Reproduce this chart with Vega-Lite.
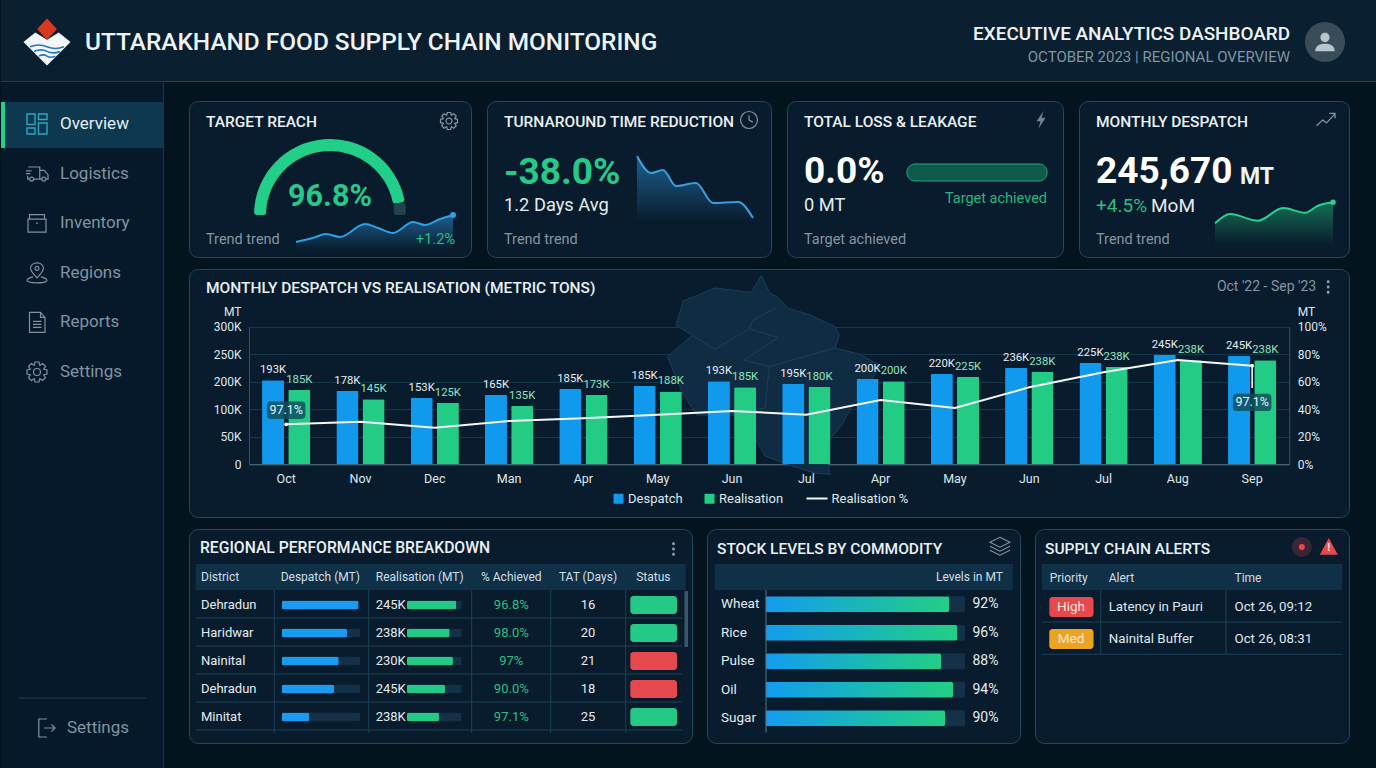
{
"$schema":"https://vega.github.io/schema/vega-lite/v6.json",
"padding":0,
"background":"#04141f",
"config":{"font":"Roboto","view":{"stroke":null},"title":{"anchor":"start","frame":"group","baseline":"middle","font":"Roboto","fontWeight":500,"fontSize":15.5,"color":"#eaf1f5"},"legend":{"labelFont":"Roboto","labelFontSize":13,"labelColor":"#dfe8ed","title":null}},
"datasets":{
"months":[
{"m":"Oct1","s":"Despatch","v":203,"label":"193K"},{"m":"Nov2","s":"Despatch","v":167,"label":"178K"},{"m":"Dec3","s":"Despatch","v":142,"label":"153K"},{"m":"Man4","s":"Despatch","v":153,"label":"165K"},{"m":"Apr5","s":"Despatch","v":174,"label":"185K"},{"m":"May6","s":"Despatch","v":186,"label":"185K"},{"m":"Jun7","s":"Despatch","v":201,"label":"193K"},{"m":"Jul8","s":"Despatch","v":193,"label":"195K"},{"m":"Apr9","s":"Despatch","v":205,"label":"200K"},{"m":"May10","s":"Despatch","v":214,"label":"220K"},{"m":"Jun11","s":"Despatch","v":225,"label":"236K"},{"m":"Jul12","s":"Despatch","v":234,"label":"225K"},{"m":"Aug13","s":"Despatch","v":249,"label":"245K"},{"m":"Sep14","s":"Despatch","v":247,"label":"245K"},
{"m":"Oct1","s":"Realisation","v":170,"label":"185K"},{"m":"Nov2","s":"Realisation","v":137,"label":"145K"},{"m":"Dec3","s":"Realisation","v":124,"label":"125K"},{"m":"Man4","s":"Realisation","v":112,"label":"135K"},{"m":"Apr5","s":"Realisation","v":152,"label":"173K"},{"m":"May6","s":"Realisation","v":165,"label":"188K"},{"m":"Jun7","s":"Realisation","v":180,"label":"185K"},{"m":"Jul8","s":"Realisation","v":181,"label":"180K"},{"m":"Apr9","s":"Realisation","v":201,"label":"200K"},{"m":"May10","s":"Realisation","v":209,"label":"225K"},{"m":"Jun11","s":"Realisation","v":218,"label":"238K"},{"m":"Jul12","s":"Realisation","v":227,"label":"238K"},{"m":"Aug13","s":"Realisation","v":239,"label":"238K"},{"m":"Sep14","s":"Realisation","v":239,"label":"238K"}],
"pct":[{"m":"Oct1","p":29.1},{"m":"Nov2","p":31},{"m":"Dec3","p":26.6},{"m":"Man4","p":31.5},{"m":"Apr5","p":33.5},{"m":"May6","p":36},{"m":"Jun7","p":38.8},{"m":"Jul8","p":36},{"m":"Apr9","p":46.8},{"m":"May10","p":41},{"m":"Jun11","p":56},{"m":"Jul12","p":67},{"m":"Aug13","p":75.8},{"m":"Sep14","p":71.7}],
"pills":[{"m":"Oct1","p":39.3,"t":"97.1%"},{"m":"Sep14","p":45,"t":"97.1%"}],
"regional":[{"key":"r1","desp":98,"real":90.2,"cap":100,"status":"ok","lo":0,"hi":1},{"key":"r2","desp":83.4,"real":78,"cap":100,"status":"ok","lo":0,"hi":1},{"key":"r3","desp":72.8,"real":84,"cap":100,"status":"bad","lo":0,"hi":1},{"key":"r4","desp":66.8,"real":69.5,"cap":100,"status":"bad","lo":0,"hi":1},{"key":"r5","desp":35.3,"real":58.5,"cap":100,"status":"ok","lo":0,"hi":1}],
"stock":[{"c":"Wheat","v":92,"t":"92%"},{"c":"Rice","v":96,"t":"96%"},{"c":"Pulse","v":88,"t":"88%"},{"c":"Oil","v":94,"t":"94%"},{"c":"Sugar","v":90,"t":"90%"}]
},
"spacing":0,
"vconcat":[
{"width":1376,"height":82,"view":{"fill":"#0a1f30"},
 "encoding":{"x":{"field":"col","type":"quantitative","axis":null,"scale":{"domain":[1,2,3,4],"range":[46,84,1289,1324]}},"y":{"field":"row","type":"quantitative","axis":null,"scale":{"domain":[1,2,3,4,5],"range":[33.5,43,56.5,42,81.5]}}},
 "layer":[
 {"data":{"values":[{"row":5}]},"mark":{"type":"rule","color":"#1c4459"},"encoding":{"x":null}},
 {"data":{"values":[{"col":1,"row":4}]},"mark":{"type":"point","filled":true,"size":2209,"opacity":1,"fill":"#f4f7f9","shape":"M-1 0L-.5 -.4L0 -.1L.5 -.4L1 0L0 1Z"}},
 {"data":{"values":[{"col":1,"row":4}]},"mark":{"type":"point","filled":false,"size":2209,"opacity":1,"stroke":"#2277b8","strokeWidth":1.6,"shape":"M-.72 .2Q-.35 .05 0 .2T.72 .2M-.55 .4Q-.25 .27 0 .4T.55 .4M-.35 .6Q-.15 .5 0 .6T.35 .6"}},
 {"data":{"values":[{"col":1,"row":4}]},"mark":{"type":"point","filled":true,"size":2209,"opacity":1,"fill":"#d8391f","shape":"M0 -1L.42 -.55L0 -.1L-.42 -.55Z"}},
 {"data":{"values":[{"col":2,"row":2,"t":"UTTARAKHAND FOOD SUPPLY CHAIN MONITORING"}]},"mark":{"type":"text","align":"left","fontSize":24.4,"fontWeight":500,"color":"#eef3f6"},"encoding":{"text":{"field":"t"}}},
 {"data":{"values":[{"col":3,"row":1,"t":"EXECUTIVE ANALYTICS DASHBOARD"}]},"mark":{"type":"text","align":"right","fontSize":18.9,"fontWeight":500,"color":"#eef3f6"},"encoding":{"text":{"field":"t"}}},
 {"data":{"values":[{"col":3,"row":3,"t":"OCTOBER 2023 | REGIONAL OVERVIEW"}]},"mark":{"type":"text","align":"right","fontSize":15,"color":"#7f95a3"},"encoding":{"text":{"field":"t"}}},
 {"data":{"values":[{"col":4,"row":4}]},"mark":{"type":"point","filled":true,"size":1600,"opacity":1,"fill":"#3a4b5a","shape":"circle"}},
 {"data":{"values":[{"col":4,"row":4}]},"mark":{"type":"point","filled":true,"size":529,"opacity":1,"fill":"#b9c5cd","shape":"M.4 -.4A.4 .4 0 1 1 -.4 -.4A.4 .4 0 1 1 .4 -.4ZM-.85 .8C-.85 .3 -.4 .15 0 .15C.4 .15 .85 .3 .85 .8Z"}}
 ]},
{"spacing":24,"hconcat":[
 {"width":163,"height":686,"view":{"fill":"#06192a"},
  "resolve":{"scale":{"x":"independent","y":"independent"}},
  "encoding":{"x":{"field":"col","type":"quantitative","axis":null,"scale":{"domain":[0,1,2,3,4,5],"range":[0,36,45,59,66,162.5]}},"y":{"field":"row","type":"quantitative","axis":null,"scale":{"domain":[1,6,7,8],"range":[41,289,615,645]}}},
  "layer":[
  {"data":{"values":[{"col":5}]},"mark":{"type":"rule","color":"#16384c"},"encoding":{"y":null}},
  {"data":{"values":[{"item":"Overview","lo":0,"hi":100}]},"mark":{"type":"rect","color":"#0e3850"},"encoding":{"x":{"field":"lo","type":"quantitative","axis":null,"scale":{"domain":[0,100],"range":[0,162.5]}},"x2":{"field":"hi"},"y":{"field":"item","type":"nominal","axis":null,"scale":{"type":"band","domain":["Overview"],"range":[19,65],"paddingInner":0,"paddingOuter":0}}}},
  {"data":{"values":[{"item":"Overview","lo":0,"hi":2.5}]},"mark":{"type":"rect","color":"#24d08a"},"encoding":{"x":{"field":"lo","type":"quantitative","axis":null,"scale":{"domain":[0,100],"range":[0,162.5]}},"x2":{"field":"hi"},"y":{"field":"item","type":"nominal","axis":null,"scale":{"type":"band","domain":["Overview"],"range":[19,65],"paddingInner":0,"paddingOuter":0}}}},
  {"data":{"values":[{"row":7,"lo":11,"hi":89}]},"mark":{"type":"rule","color":"#1c4459"},"encoding":{"x":{"field":"lo","type":"quantitative","axis":null,"scale":{"domain":[0,100],"range":[0,162.5]}},"x2":{"field":"hi"}}},
  {"data":{"values":[{"col":1,"row":1}]},"mark":{"type":"point","filled":false,"size":400,"opacity":1,"stroke":"#2ea7bf","strokeWidth":1.4,"shape":"M-1 -1H-.2V.05H-1ZM.15 -1H1V-.45H.15ZM-1 .4H-.2V1H-1ZM.15 -.1H1V1H.15Z"}},
  {"data":{"values":[{"col":1,"row":2}]},"mark":{"type":"point","filled":false,"size":484,"opacity":1,"stroke":"#7d93a1","strokeWidth":1.2,"shape":"M-.8 -.6H.25V.5H-.3M-.65 .5H-.85V.2M.25 -.3H.65L1 .1V.5H.8M.45 .5H.25M-.3 .5A.18 .18 0 1 1 -.66 .5A.18 .18 0 1 1 -.3 .5ZM.8 .5A.18 .18 0 1 1 .44 .5A.18 .18 0 1 1 .8 .5ZM-1 -.25H-.5M-1 0H-.6"}},
  {"data":{"values":[{"col":1,"row":3}]},"mark":{"type":"point","filled":false,"size":400,"opacity":1,"stroke":"#7d93a1","strokeWidth":1.2,"shape":"M-.9 -.4H.9V.9H-.9ZM-.75 -.4V-.85H.75V-.4M-.1 0H.1"}},
  {"data":{"values":[{"col":1,"row":4}]},"mark":{"type":"point","filled":false,"size":400,"opacity":1,"stroke":"#7d93a1","strokeWidth":1.2,"shape":"M0 .5C-.5 0 -.65 -.3 -.65 -.45A.65 .55 0 1 1 .65 -.45C.65 -.3 .5 0 0 .5ZM.2 -.45A.2 .2 0 1 1 -.2 -.45A.2 .2 0 1 1 .2 -.45ZM-.4 .4C-.8 .5 -1 .65 -1 .75C-1 .95 -.5 1 0 1C.5 1 1 .95 1 .75C1 .65 .8 .5 .4 .4"}},
  {"data":{"values":[{"col":1,"row":5}]},"mark":{"type":"point","filled":false,"size":400,"opacity":1,"stroke":"#7d93a1","strokeWidth":1.2,"shape":"M-.75 -1H.35L.8 -.5V1H-.75ZM.35 -1V-.5H.8M-.4 -.1H.45M-.4 .2H.45M-.4 .5H.45"}},
  {"data":{"values":[{"col":1,"row":6}]},"mark":{"type":"point","filled":false,"size":400,"opacity":1,"stroke":"#7d93a1","strokeWidth":1.2,"shape":"M-.2 -1L.2 -1L.28 -.67L.57 -.85L.85 -.57L.67 -.28L1 -.2L1 .2L.67 .28L.85 .57L.57 .85L.28 .67L.2 1L-.2 1L-.28 .67L-.57 .85L-.85 .57L-.67 .28L-1 .2L-1 -.2L-.67 -.28L-.85 -.57L-.57 -.85L-.28 -.67ZM.35 0A.35 .35 0 1 1 -.35 0A.35 .35 0 1 1 .35 0Z"}},
  {"data":{"values":[{"col":2,"row":8}]},"mark":{"type":"point","filled":false,"size":324,"opacity":1,"stroke":"#7d93a1","strokeWidth":1.2,"shape":"M.1 -1H-.8V1H.1M-.2 0H1M.6 -.4L1 0L.6 .4"}},
  {"data":{"values":[{"col":3,"row":1,"t":"Overview"}]},"mark":{"type":"text","align":"left","fontSize":17,"color":"#e6eef2"},"encoding":{"text":{"field":"t"}}},
  {"data":{"values":[{"col":3,"row":2,"t":"Logistics"},{"col":3,"row":3,"t":"Inventory"},{"col":3,"row":4,"t":"Regions"},{"col":3,"row":5,"t":"Reports"},{"col":3,"row":6,"t":"Settings"},{"col":4,"row":8,"t":"Settings"}]},"mark":{"type":"text","align":"left","fontSize":17,"color":"#7f95a3"},"encoding":{"text":{"field":"t"}}}
  ]},
 {"spacing":10,"vconcat":[
  {"width":1160,"height":6.5,"data":{"values":[]},"mark":"rect"},
  {"spacing":14,"hconcat":[
   {"width":282,"height":156,"view":{"fill":"#091c2d","stroke":"#1f4a60","cornerRadius":9},"title":{"text":"TARGET REACH","dx":17,"offset":-29},
    "resolve":{"scale":{"x":"independent","y":"independent"}},
    "encoding":{"x":{"field":"col","type":"quantitative","axis":null,"scale":{"domain":[1,2,3,4],"range":[17,141,260,266]}},"y":{"field":"row","type":"quantitative","axis":null,"scale":{"domain":[1,2,3,4],"range":[20,96,114,139]}}},
    "layer":[
    {"data":{"values":[{"col":2,"row":3,"part":"done","v":94.5},{"col":2,"row":3,"part":"rest","v":5.5}]},"mark":{"type":"arc","innerRadius":64,"outerRadius":76,"cornerRadius":3},"encoding":{"theta":{"field":"v","type":"quantitative","stack":true,"scale":{"domain":[0,100],"range":[-1.5708,1.5708]}},"color":{"field":"part","type":"nominal","legend":null,"scale":{"domain":["done","rest","ok","bad","High","Med"],"range":["#22cf88","#25404f","#24c985","#e5484d","#e5484d","#eba320"]}}}},
    {"data":{"values":[{"col":3,"row":1}]},"mark":{"type":"point","filled":false,"size":289,"opacity":1,"stroke":"#8296a3","strokeWidth":1.2,"shape":"M-.2 -1L.2 -1L.28 -.67L.57 -.85L.85 -.57L.67 -.28L1 -.2L1 .2L.67 .28L.85 .57L.57 .85L.28 .67L.2 1L-.2 1L-.28 .67L-.57 .85L-.85 .57L-.67 .28L-1 .2L-1 -.2L-.67 -.28L-.85 -.57L-.57 -.85L-.28 -.67ZM.35 0A.35 .35 0 1 1 -.35 0A.35 .35 0 1 1 .35 0Z"}},
    {"data":{"values":[{"t":0,"v":8},{"t":17,"v":12},{"t":30,"v":16},{"t":44,"v":13},{"t":69,"v":26},{"t":82,"v":22},{"t":97,"v":17},{"t":117,"v":28},{"t":129,"v":25},{"t":144,"v":31},{"t":157,"v":35}]},
     "encoding":{"x":{"field":"t","type":"quantitative","axis":null,"scale":{"domain":[0,157],"range":[107,264]}},"y":{"field":"v","type":"quantitative","axis":null,"scale":{"domain":[0,40],"range":[149,109]}}},
     "layer":[
     {"mark":{"type":"area","interpolate":"monotone","color":{"gradient":"linear","x1":0,"y1":0,"x2":0,"y2":1,"stops":[{"offset":0,"color":"#1d5f8e"},{"offset":1,"color":"#091c2d"}]}}},
     {"mark":{"type":"line","interpolate":"monotone","color":"#2f9fe6","strokeWidth":2}},
     {"transform":[{"filter":"datum.t==157"}],"mark":{"type":"point","filled":true,"size":36,"opacity":1,"color":"#2f9fe6"}}]},
    {"data":{"values":[{"col":2,"row":2,"t":"96.8%"}]},"mark":{"type":"text","fontSize":30.5,"fontWeight":700,"color":"#27c98a"},"encoding":{"text":{"field":"t"}}},
    {"data":{"values":[{"col":1,"row":4,"t":"Trend trend"}]},"mark":{"type":"text","align":"left","fontSize":14.5,"color":"#8296a3"},"encoding":{"text":{"field":"t"}}},
    {"data":{"values":[{"col":4,"row":4,"t":"+1.2%"}]},"mark":{"type":"text","align":"right","fontSize":14.5,"color":"#2bbf82"},"encoding":{"text":{"field":"t"}}}
    ]},
   {"width":284,"height":156,"view":{"fill":"#091c2d","stroke":"#1f4a60","cornerRadius":9},"title":{"text":"TURNAROUND TIME REDUCTION","dx":17,"offset":-29},
    "resolve":{"scale":{"x":"independent","y":"independent"}},
    "encoding":{"x":{"field":"col","type":"quantitative","axis":null,"scale":{"domain":[1,2],"range":[17,262]}},"y":{"field":"row","type":"quantitative","axis":null,"scale":{"domain":[1,2,3,4],"range":[19,72,105,139]}}},
    "layer":[
    {"data":{"values":[{"col":2,"row":1}]},"mark":{"type":"point","filled":false,"size":289,"opacity":1,"stroke":"#8296a3","strokeWidth":1.2,"shape":"M1 0A1 1 0 1 1 -1 0A1 1 0 1 1 1 0ZM0 -.55L0 0L.45 .25"}},
    {"data":{"values":[{"t":0,"v":66},{"t":14,"v":49},{"t":26,"v":52},{"t":39,"v":36},{"t":59,"v":39},{"t":76,"v":19},{"t":101,"v":20},{"t":116,"v":4}]},
     "encoding":{"x":{"field":"t","type":"quantitative","axis":null,"scale":{"domain":[0,116],"range":[150,266]}},"y":{"field":"v","type":"quantitative","axis":null,"scale":{"domain":[0,70],"range":[121,51]}}},
     "layer":[
     {"mark":{"type":"area","interpolate":"monotone","color":{"gradient":"linear","x1":0,"y1":0,"x2":0,"y2":1,"stops":[{"offset":0,"color":"#1f5f90"},{"offset":1,"color":"#091c2d"}]}}},
     {"mark":{"type":"line","interpolate":"monotone","color":"#3a9fe0","strokeWidth":2}}]},
    {"data":{"values":[{"col":1,"row":2,"t":"-38.0%"}]},"mark":{"type":"text","align":"left","fontSize":37,"fontWeight":700,"color":"#27c98a"},"encoding":{"text":{"field":"t"}}},
    {"data":{"values":[{"col":1,"row":3,"t":"1.2 Days Avg"}]},"mark":{"type":"text","align":"left","fontSize":18.3,"color":"#e4ecf0"},"encoding":{"text":{"field":"t"}}},
    {"data":{"values":[{"col":1,"row":4,"t":"Trend trend"}]},"mark":{"type":"text","align":"left","fontSize":14.5,"color":"#8296a3"},"encoding":{"text":{"field":"t"}}}
    ]},
   {"width":276,"height":156,"view":{"fill":"#091c2d","stroke":"#1f4a60","cornerRadius":9},"title":{"text":"TOTAL LOSS & LEAKAGE","dx":17,"offset":-29},
    "resolve":{"scale":{"x":"independent","y":"independent"}},
    "encoding":{"x":{"field":"col","type":"quantitative","axis":null,"scale":{"domain":[1,2,3],"range":[17,254,260]}},"y":{"field":"row","type":"quantitative","axis":null,"scale":{"domain":[1,2,3,4,5],"range":[19,71,98,105,139]}}},
    "layer":[
    {"data":{"values":[{"col":2,"row":1}]},"mark":{"type":"point","filled":true,"size":324,"opacity":1,"fill":"#6f8494","shape":"M.3 -1L-.5 .15L-.05 .15L-.3 1L.5 -.25L.05 -.25Z"}},
    {"data":{"values":[{"s":"loss","a":0,"b":100}]},"mark":{"type":"rect","cornerRadius":8,"fill":"#0e5a4a","stroke":"#2aa97b","strokeWidth":1},"encoding":{"x":{"field":"a","type":"quantitative","axis":null,"scale":{"domain":[0,100],"range":[120,260]}},"x2":{"field":"b"},"y":{"field":"s","type":"nominal","axis":null,"scale":{"type":"band","domain":["loss"],"range":[63,80]}}}},
    {"data":{"values":[{"col":1,"row":2,"t":"0.0%"}]},"mark":{"type":"text","align":"left","fontSize":37,"fontWeight":700,"color":"#ffffff"},"encoding":{"text":{"field":"t"}}},
    {"data":{"values":[{"col":1,"row":4,"t":"0 MT"}]},"mark":{"type":"text","align":"left","fontSize":18.3,"color":"#e4ecf0"},"encoding":{"text":{"field":"t"}}},
    {"data":{"values":[{"col":1,"row":5,"t":"Target achieved"}]},"mark":{"type":"text","align":"left","fontSize":14.5,"color":"#8296a3"},"encoding":{"text":{"field":"t"}}},
    {"data":{"values":[{"col":3,"row":3,"t":"Target achieved"}]},"mark":{"type":"text","align":"right","fontSize":14.5,"color":"#2bb67f"},"encoding":{"text":{"field":"t"}}}
    ]},
   {"width":270,"height":156,"view":{"fill":"#091c2d","stroke":"#1f4a60","cornerRadius":9},"title":{"text":"MONTHLY DESPATCH","dx":17,"offset":-29},
    "resolve":{"scale":{"x":"independent","y":"independent"}},
    "encoding":{"x":{"field":"col","type":"quantitative","axis":null,"scale":{"domain":[1,2,3,4],"range":[17,72,161,247]}},"y":{"field":"row","type":"quantitative","axis":null,"scale":{"domain":[1,2,3,4,5],"range":[19,71,76,105,139]}}},
    "layer":[
    {"data":{"values":[{"col":4,"row":1}]},"mark":{"type":"point","filled":false,"size":361,"opacity":1,"stroke":"#8296a3","strokeWidth":1.2,"shape":"M-1 .6L-.35 0L.05 .3L.9 -.6M.35 -.7L.95 -.7L.95 -.15"}},
    {"data":{"values":[{"t":0,"v":21.7},{"t":15,"v":31},{"t":43,"v":24.3},{"t":68,"v":37},{"t":90,"v":32.3},{"t":103,"v":39.3},{"t":118,"v":42.7}]},
     "encoding":{"x":{"field":"t","type":"quantitative","axis":null,"scale":{"domain":[0,118],"range":[136,254]}},"y":{"field":"v","type":"quantitative","axis":null,"scale":{"domain":[0,50],"range":[144,94]}}},
     "layer":[
     {"mark":{"type":"area","interpolate":"monotone","color":{"gradient":"linear","x1":0,"y1":0,"x2":0,"y2":1,"stops":[{"offset":0,"color":"#146f55"},{"offset":1,"color":"#091c2d"}]}}},
     {"mark":{"type":"line","interpolate":"monotone","color":"#2bd08c","strokeWidth":2}},
     {"transform":[{"filter":"datum.t==118"}],"mark":{"type":"point","filled":true,"size":30,"opacity":1,"color":"#2bd08c"}}]},
    {"data":{"values":[{"col":1,"row":2,"t":"245,670"}]},"mark":{"type":"text","align":"left","fontSize":37,"fontWeight":700,"color":"#ffffff"},"encoding":{"text":{"field":"t"}}},
    {"data":{"values":[{"col":3,"row":3,"t":"MT"}]},"mark":{"type":"text","align":"left","fontSize":23,"fontWeight":700,"color":"#eef3f6"},"encoding":{"text":{"field":"t"}}},
    {"data":{"values":[{"col":1,"row":4,"t":"+4.5%"}]},"mark":{"type":"text","align":"left","fontSize":19,"color":"#2bbf82"},"encoding":{"text":{"field":"t"}}},
    {"data":{"values":[{"col":2,"row":4,"t":"MoM"}]},"mark":{"type":"text","align":"left","fontSize":19,"color":"#e4ecf0"},"encoding":{"text":{"field":"t"}}},
    {"data":{"values":[{"col":1,"row":5,"t":"Trend trend"}]},"mark":{"type":"text","align":"left","fontSize":14.5,"color":"#8296a3"},"encoding":{"text":{"field":"t"}}}
    ]}
  ]},
  {"width":1160,"height":248,"view":{"fill":"#091c2d","stroke":"#1f4a60","cornerRadius":9},"title":{"text":"MONTHLY DESPATCH VS REALISATION (METRIC TONS)","dx":17,"offset":-27},
   "resolve":{"scale":{"y":"independent"}},
   "layer":[
   {"data":{"values":[{"type":"Feature","properties":{},"geometry":{"type":"Polygon","coordinates":[[[79.10,31.45],[79.23,31.22],[79.37,31.15],[79.52,31.01],[79.88,30.91],[80.28,30.75],[80.35,30.63],[80.28,30.46],[80.67,30.37],[81.00,30.22],[80.89,30.06],[80.53,29.63],[80.39,29.39],[80.10,29.10],[80.20,28.70],[79.95,28.72],[79.59,28.82],[79.16,28.96],[78.97,29.25],[78.65,29.53],[78.07,29.53],[77.85,29.82],[77.60,30.34],[78.00,30.63],[77.74,30.77],[77.85,31.10],[78.36,31.28],[78.94,31.22],[79.10,31.45]]]}}],"format":{"type":"json"}},
    "projection":{"type":"mercator","scale":3587,"center":[79.3,30.1],"translate":[584.8,104.9]},
    "mark":{"type":"geoshape","fill":"#102c43","stroke":"#1b4763","strokeWidth":0.8}},
   {"data":{"values":[{"type":"Feature","properties":{},"geometry":{"type":"MultiLineString","coordinates":[[[78.00,30.63],[78.36,30.44],[78.90,30.72],[78.97,30.84],[79.34,31.01]],[[78.90,30.72],[79.37,30.60],[78.83,30.29],[79.23,30.20],[80.28,30.46]],[[79.23,30.20],[79.16,29.63],[78.65,29.53]]]}}],"format":{"type":"json"}},
    "projection":{"type":"mercator","scale":3587,"center":[79.3,30.1],"translate":[584.8,104.9]},
    "mark":{"type":"geoshape","filled":false,"fill":null,"stroke":"#1b4763","strokeWidth":0.7}},
   {"data":{"name":"months"},
    "encoding":{"x":{"field":"m","type":"nominal","title":null,"scale":{"domain":["Oct1","Nov2","Dec3","Man4","Apr5","May6","Jun7","Jul8","Apr9","May10","Jun11","Jul12","Aug13","Sep14"],"range":[60,1100.3],"paddingInner":0,"paddingOuter":0},"axis":{"labelExpr":"slice(datum.label,0,3)","labelAngle":0,"labelFontSize":12.5,"labelColor":"#dfe8ed","labelPadding":8,"ticks":false,"domainColor":"#5b7484","offset":-52.7,"grid":false}},
     "xOffset":{"field":"s","type":"nominal","scale":{"domain":["Despatch","Realisation"],"paddingInner":0.16,"paddingOuter":0.498}},
     "y":{"field":"v","type":"quantitative","scale":{"domain":[0,50,100,200,250,300],"range":[195.3,167.8,140.3,112.8,85.3,57.8]},"axis":{"values":[0,50,100,200,250,300],"labelExpr":"datum.value==0?'0':datum.value+'K'","labelFontSize":12,"labelColor":"#dfe8ed","labelPadding":8,"ticks":false,"labelOverlap":false,"grid":true,"gridColor":"#17374c","domain":true,"domainColor":"#35505f","offset":-60,"title":"MT","titleAngle":0,"titleX":-8,"titleY":42,"titleAlign":"right","titleBaseline":"middle","titleFontSize":12,"titleFontWeight":400,"titleColor":"#dfe8ed"}}},
    "layer":[
    {"mark":{"type":"bar","cornerRadius":1},"encoding":{"fill":{"field":"s","type":"nominal","scale":{"domain":["Despatch","Realisation"],"range":["#1199ee","#23cc85"]},"legend":{"orient":"none","direction":"horizontal","columns":2,"legendX":611,"legendY":492,"symbolType":"square","symbolSize":100,"symbolStrokeWidth":0,"columnPadding":20,"labelOffset":3}}}},
    {"transform":[{"filter":"datum.s=='Despatch'"}],"mark":{"type":"text","fontSize":11.3,"dy":-10,"color":"#e8eff3"},"encoding":{"text":{"field":"label"}}},
    {"transform":[{"filter":"datum.s=='Realisation'"}],"mark":{"type":"text","fontSize":11.3,"dy":-10,"color":"#8fe6bd"},"encoding":{"text":{"field":"label"}}}
    ]},
   {"encoding":{"x":{"field":"m","type":"nominal","title":null,"scale":{"domain":["Oct1","Nov2","Dec3","Man4","Apr5","May6","Jun7","Jul8","Apr9","May10","Jun11","Jul12","Aug13","Sep14"],"range":[60,1100.3],"paddingInner":0,"paddingOuter":0},"axis":{"labelExpr":"slice(datum.label,0,3)","labelAngle":0,"labelFontSize":12.5,"labelColor":"#dfe8ed","labelPadding":8,"ticks":false,"domainColor":"#5b7484","offset":-52.7,"grid":false}},
     "y":{"field":"p","type":"quantitative","scale":{"domain":[0,100],"range":[195.3,57.8]},"axis":{"orient":"right","values":[0,20,40,60,80,100],"labelExpr":"datum.value+'%'","labelFontSize":12,"labelColor":"#dfe8ed","labelPadding":8,"ticks":false,"grid":false,"domain":true,"domainColor":"#35505f","offset":-59.7,"title":"MT","titleAngle":0,"titleX":8,"titleY":42,"titleAlign":"left","titleBaseline":"middle","titleFontSize":12,"titleFontWeight":400,"titleColor":"#dfe8ed"}}},
    "layer":[
    {"data":{"name":"pct"},"mark":{"type":"line","strokeWidth":2},"encoding":{"stroke":{"datum":"Realisation %","scale":{"domain":["Realisation %"],"range":["#f4f8fa"]},"legend":{"orient":"none","legendX":804.5,"legendY":487,"symbolType":"stroke","symbolSize":441,"symbolStrokeWidth":2,"labelOffset":3}}}},
    {"data":{"name":"pct"},"transform":[{"filter":"datum.m=='Oct1'||datum.m=='Sep14'"}],"mark":{"type":"point","filled":true,"size":14,"opacity":1,"color":"#ffffff"}},
    {"data":{"values":[{"m":"Sep14","p":71.7,"b":55.5}]},"mark":{"type":"rule","color":"#ffffff","strokeWidth":1.5},"encoding":{"y2":{"field":"b"}}},
    {"data":{"name":"pills"},"mark":{"type":"point","filled":true,"size":1482,"opacity":0.85,"fill":"#0d5060","shape":"M-.8 -.45H.8Q1 -.45 1 -.25V.25Q1 .45 .8 .45H-.8Q-1 .45 -1 .25V-.25Q-1 -.45 -.8 -.45Z"}},
    {"data":{"name":"pills"},"mark":{"type":"text","fontSize":12.5,"color":"#e8f2f5"},"encoding":{"text":{"field":"t"}}},
    {"data":{"values":[{"m":"Sep14","p":129,"t":"Oct '22 - Sep '23"}]},"mark":{"type":"text","align":"right","dx":64,"fontSize":14,"color":"#8296a3"},"encoding":{"text":{"field":"t"}}},
    {"data":{"values":[{"m":"Sep14","p":129}]},"mark":{"type":"point","filled":true,"size":225,"opacity":1,"xOffset":76,"fill":"#8b9eab","shape":"M.2 -.7A.2 .2 0 1 1 -.2 -.7A.2 .2 0 1 1 .2 -.7ZM.2 0A.2 .2 0 1 1 -.2 0A.2 .2 0 1 1 .2 0ZM.2 .7A.2 .2 0 1 1 -.2 .7A.2 .2 0 1 1 .2 .7Z"}}
    ]}
   ]},
  {"spacing":13,"hconcat":[
   {"width":503,"height":214,"view":{"fill":"#091c2d","stroke":"#1f4a60","cornerRadius":9},"title":{"text":"REGIONAL PERFORMANCE BREAKDOWN","dx":11,"offset":-28,"fontSize":15.7},
    "resolve":{"scale":{"x":"independent","y":"independent"}},
    "encoding":{"x":{"field":"col","type":"quantitative","axis":null,"scale":{"domain":[1,2,3,4,5,6,7,8],"range":[12,131.3,186.7,230.7,322.3,399,464.3,484.5]}},"y":{"field":"key","type":"nominal","axis":null,"scale":{"type":"band","domain":["top","hdr","r1","r2","r3","r4","r5"],"range":[6,202],"paddingInner":0,"paddingOuter":0}}},
    "layer":[
    {"data":{"values":[{"n":1,"lo":0,"hi":1},{"n":2,"lo":0,"hi":1},{"n":3,"lo":0,"hi":1},{"n":4,"lo":0,"hi":1},{"n":5,"lo":0,"hi":1}]},"mark":{"type":"rule","color":"#1c4258"},"encoding":{"x":{"field":"lo","type":"quantitative","axis":null,"scale":{"domain":[0,1],"range":[7,493]}},"x2":{"field":"hi"},"y":{"field":"n","type":"quantitative","axis":null,"scale":{"domain":[1,5],"range":[89,201]}}}},
    {"data":{"values":[{"s":1,"lo":0,"hi":1},{"s":2,"lo":0,"hi":1},{"s":3,"lo":0,"hi":1},{"s":4,"lo":0,"hi":1},{"s":5,"lo":0,"hi":1}]},"mark":{"type":"rule","color":"#1c4258"},"encoding":{"x":{"field":"s","type":"quantitative","axis":null,"scale":{"domain":[1,2,3,4,5],"range":[85.3,179.7,282.7,361.7,436.7]}},"y":{"field":"lo","type":"quantitative","axis":null,"scale":{"domain":[0,1],"range":[61,204]}},"y2":{"field":"hi"}}},
    {"data":{"values":[{"key":"hdr","lo":0,"hi":1}]},"mark":{"type":"bar","size":26,"color":"#0f3148"},"encoding":{"x":{"field":"lo","type":"quantitative","axis":null,"scale":{"domain":[0,1],"range":[6.7,496.7]}},"x2":{"field":"hi"}}},
    {"data":{"name":"regional"},"mark":{"type":"bar","size":9,"cornerRadius":2,"color":"#15314a"},"encoding":{"x":{"field":"cap","type":"quantitative","axis":null,"scale":{"domain":[0,100],"range":[92.7,171]}}}},
    {"data":{"name":"regional"},"mark":{"type":"bar","size":9,"cornerRadius":2,"color":"#1a9bf0"},"encoding":{"x":{"field":"desp","type":"quantitative","axis":null,"scale":{"domain":[0,100],"range":[92.7,171]}}}},
    {"data":{"name":"regional"},"mark":{"type":"bar","size":9,"cornerRadius":2,"color":"#15314a"},"encoding":{"x":{"field":"cap","type":"quantitative","axis":null,"scale":{"domain":[0,100],"range":[218,272.7]}}}},
    {"data":{"name":"regional"},"mark":{"type":"bar","size":9,"cornerRadius":2,"color":"#24c985"},"encoding":{"x":{"field":"real","type":"quantitative","axis":null,"scale":{"domain":[0,100],"range":[218,272.7]}}}},
    {"data":{"name":"regional"},"mark":{"type":"bar","size":18,"cornerRadius":3},"encoding":{"x":{"field":"lo","type":"quantitative","axis":null,"scale":{"domain":[0,1],"range":[441.3,488]}},"x2":{"field":"hi"},"color":{"field":"status","type":"nominal","legend":null,"scale":{"domain":["done","rest","ok","bad","High","Med"],"range":["#22cf88","#25404f","#24c985","#e5484d","#e5484d","#eba320"]}}}},
    {"data":{"values":[{"key":"r1","lo":0,"hi":1},{"key":"r2","lo":0,"hi":1}]},"mark":{"type":"rect","color":"#3c566b"},"encoding":{"x":{"field":"lo","type":"quantitative","axis":null,"scale":{"domain":[0,1],"range":[495.5,499]}},"x2":{"field":"hi"}}},
    {"data":{"values":[{"key":"hdr","col":1,"t":"District"}]},"mark":{"type":"text","align":"left","fontSize":12,"color":"#d3dee5"},"encoding":{"text":{"field":"t"}}},
    {"data":{"values":[{"key":"hdr","col":2,"t":"Despatch (MT)"},{"key":"hdr","col":4,"t":"Realisation (MT)"},{"key":"hdr","col":5,"t":"% Achieved"},{"key":"hdr","col":6,"t":"TAT (Days)"},{"key":"hdr","col":7,"t":"Status"}]},"mark":{"type":"text","fontSize":12,"color":"#d3dee5"},"encoding":{"text":{"field":"t"}}},
    {"data":{"values":[{"key":"r1","col":1,"t":"Dehradun"},{"key":"r2","col":1,"t":"Haridwar"},{"key":"r3","col":1,"t":"Nainital"},{"key":"r4","col":1,"t":"Dehradun"},{"key":"r5","col":1,"t":"Minitat"},{"key":"r1","col":3,"t":"245K"},{"key":"r2","col":3,"t":"238K"},{"key":"r3","col":3,"t":"230K"},{"key":"r4","col":3,"t":"245K"},{"key":"r5","col":3,"t":"238K"}]},"mark":{"type":"text","align":"left","fontSize":13,"color":"#e4ecf0"},"encoding":{"text":{"field":"t"}}},
    {"data":{"values":[{"key":"r1","col":5,"t":"96.8%"},{"key":"r2","col":5,"t":"98.0%"},{"key":"r3","col":5,"t":"97%"},{"key":"r4","col":5,"t":"90.0%"},{"key":"r5","col":5,"t":"97.1%"}]},"mark":{"type":"text","fontSize":13,"color":"#2fbf83"},"encoding":{"text":{"field":"t"}}},
    {"data":{"values":[{"key":"r1","col":6,"t":"16"},{"key":"r2","col":6,"t":"20"},{"key":"r3","col":6,"t":"21"},{"key":"r4","col":6,"t":"18"},{"key":"r5","col":6,"t":"25"}]},"mark":{"type":"text","fontSize":13,"color":"#e4ecf0"},"encoding":{"text":{"field":"t"}}},
    {"data":{"values":[{"key":"top","col":8}]},"mark":{"type":"point","filled":true,"size":225,"opacity":1,"fill":"#8b9eab","shape":"M.2 -.7A.2 .2 0 1 1 -.2 -.7A.2 .2 0 1 1 .2 -.7ZM.2 0A.2 .2 0 1 1 -.2 0A.2 .2 0 1 1 .2 0ZM.2 .7A.2 .2 0 1 1 -.2 .7A.2 .2 0 1 1 .2 .7Z"}}
    ]},
   {"width":313,"height":214,"view":{"fill":"#091c2d","stroke":"#1f4a60","cornerRadius":9},"title":{"text":"STOCK LEVELS BY COMMODITY","dx":10,"offset":-28},
    "data":{"name":"stock"},
    "encoding":{"y":{"field":"c","type":"nominal","scale":{"type":"band","domain":["top","hdr","Wheat","Rice","Pulse","Oil","Sugar"],"range":[4,203.5],"paddingInner":0,"paddingOuter":0},"axis":{"title":null,"ticks":false,"domain":false,"labelAlign":"left","labelPadding":45,"offset":-58.5,"labelFontSize":13.5,"labelColor":"#e4ecf0","labelExpr":"datum.label=='top'||datum.label=='hdr'?'':datum.label"}}},
    "layer":[
    {"data":{"values":[{"c":"hdr"}]},"mark":{"type":"bar","size":26,"yOffset":1.25,"color":"#0f3148"},"encoding":{"x":{"datum":-25.5,"type":"quantitative","scale":{"domain":[0,100],"range":[58.5,258]},"axis":null},"x2":{"datum":124}}},
    {"mark":{"type":"bar","size":16,"cornerRadius":2,"color":"#15314a"},"encoding":{"x":{"datum":100,"type":"quantitative","axis":null}}},
    {"mark":{"type":"bar","size":16,"cornerRadius":2,"color":{"gradient":"linear","x1":0,"y1":0,"x2":1,"y2":0,"stops":[{"offset":0,"color":"#129cf0"},{"offset":1,"color":"#22cf84"}]}},"encoding":{"x":{"field":"v","type":"quantitative","axis":null}}},
    {"mark":{"type":"rect","color":"#5b7484"},"encoding":{"x":{"datum":0,"type":"quantitative","axis":null},"x2":{"datum":0.5}}},
    {"mark":{"type":"text","align":"left","dx":7.5,"fontSize":14,"color":"#e4ecf0"},"encoding":{"x":{"datum":100,"type":"quantitative","axis":null},"text":{"field":"t"}}},
    {"data":{"values":[{"c":"hdr","t":"Levels in MT"}]},"mark":{"type":"text","align":"right","dy":1,"fontSize":12,"color":"#d3dee5"},"encoding":{"x":{"datum":119,"type":"quantitative","axis":null},"text":{"field":"t"}}},
    {"data":{"values":[{"c":"top"}]},"mark":{"type":"point","filled":false,"size":400,"opacity":1,"stroke":"#8296a3","strokeWidth":1.1,"shape":"M0 -1L1 -.5L0 0L-1 -.5ZM-1 -.1L0 .4L1 -.1M-1 .3L0 .8L1 .3"},"encoding":{"x":{"datum":117.5,"type":"quantitative","axis":null}}}
    ]},
   {"width":314,"height":214,"view":{"fill":"#091c2d","stroke":"#1f4a60","cornerRadius":9},"title":{"text":"SUPPLY CHAIN ALERTS","dx":10,"offset":-28},
    "resolve":{"scale":{"x":"independent","y":"independent"}},
    "encoding":{"x":{"field":"col","type":"quantitative","axis":null,"scale":{"domain":[1,2,3,4,5,6],"range":[14.7,36,73.7,199.5,266.8,293.8]}},"y":{"field":"key","type":"nominal","axis":null,"scale":{"type":"band","domain":["top","hdr","a1","a2"],"range":[-2,126],"paddingInner":0,"paddingOuter":0}}},
    "layer":[
    {"data":{"values":[{"n":1,"lo":0,"hi":1},{"n":2,"lo":0,"hi":1}]},"mark":{"type":"rule","color":"#1c4258"},"encoding":{"x":{"field":"lo","type":"quantitative","axis":null,"scale":{"domain":[0,1],"range":[7,307]}},"x2":{"field":"hi"},"y":{"field":"n","type":"quantitative","axis":null,"scale":{"domain":[1,2],"range":[93,125.3]}}}},
    {"data":{"values":[{"s":1,"lo":0,"hi":1},{"s":2,"lo":0,"hi":1}]},"mark":{"type":"rule","color":"#1c4258"},"encoding":{"x":{"field":"s","type":"quantitative","axis":null,"scale":{"domain":[1,2],"range":[65.7,191]}},"y":{"field":"lo","type":"quantitative","axis":null,"scale":{"domain":[0,1],"range":[61,125]}},"y2":{"field":"hi"}}},
    {"data":{"values":[{"key":"hdr","lo":0,"hi":1}]},"mark":{"type":"bar","size":26,"yOffset":2,"color":"#0f3148"},"encoding":{"x":{"field":"lo","type":"quantitative","axis":null,"scale":{"domain":[0,1],"range":[7,307]}},"x2":{"field":"hi"}}},
    {"data":{"values":[{"key":"a1","lvl":"High","lo":0,"hi":1},{"key":"a2","lvl":"Med","lo":0,"hi":1}]},"mark":{"type":"bar","size":20,"cornerRadius":3},"encoding":{"x":{"field":"lo","type":"quantitative","axis":null,"scale":{"domain":[0,1],"range":[14.3,58.5]}},"x2":{"field":"hi"},"color":{"field":"lvl","type":"nominal","legend":null,"scale":{"domain":["done","rest","ok","bad","High","Med"],"range":["#22cf88","#25404f","#24c985","#e5484d","#e5484d","#eba320"]}}}},
    {"data":{"values":[{"key":"hdr","col":1,"t":"Priority"},{"key":"hdr","col":3,"t":"Alert"},{"key":"hdr","col":4,"t":"Time"}]},"mark":{"type":"text","align":"left","dy":3,"fontSize":12,"color":"#d3dee5"},"encoding":{"text":{"field":"t"}}},
    {"data":{"values":[{"key":"a1","col":2,"t":"High"},{"key":"a2","col":2,"t":"Med"}]},"mark":{"type":"text","fontSize":13.5,"color":"#fde6d8"},"encoding":{"text":{"field":"t"}}},
    {"data":{"values":[{"key":"a1","col":3,"t":"Latency in Pauri"},{"key":"a2","col":3,"t":"Nainital Buffer"},{"key":"a1","col":4,"t":"Oct 26, 09:12"},{"key":"a2","col":4,"t":"Oct 26, 08:31"}]},"mark":{"type":"text","align":"left","fontSize":13.3,"color":"#dfe8ed"},"encoding":{"text":{"field":"t"}}},
    {"data":{"values":[{"key":"top","col":5}]},"mark":{"type":"point","filled":true,"size":400,"opacity":0.22,"yOffset":4,"fill":"#e5484d","shape":"circle"}},
    {"data":{"values":[{"key":"top","col":5}]},"mark":{"type":"point","filled":true,"size":36,"opacity":1,"yOffset":4,"fill":"#ef4444","shape":"circle"}},
    {"data":{"values":[{"key":"top","col":6}]},"mark":{"type":"point","filled":true,"size":324,"opacity":1,"yOffset":4,"fill":"#e5484d","shape":"M0 -1L1 .85L-1 .85Z"}},
    {"data":{"values":[{"key":"top","col":6,"t":"!"}]},"mark":{"type":"text","dy":5,"fontSize":11,"fontWeight":700,"color":"#ffe9e9"},"encoding":{"text":{"field":"t"}}}
    ]}
  ]}
 ]}
]}
]}
